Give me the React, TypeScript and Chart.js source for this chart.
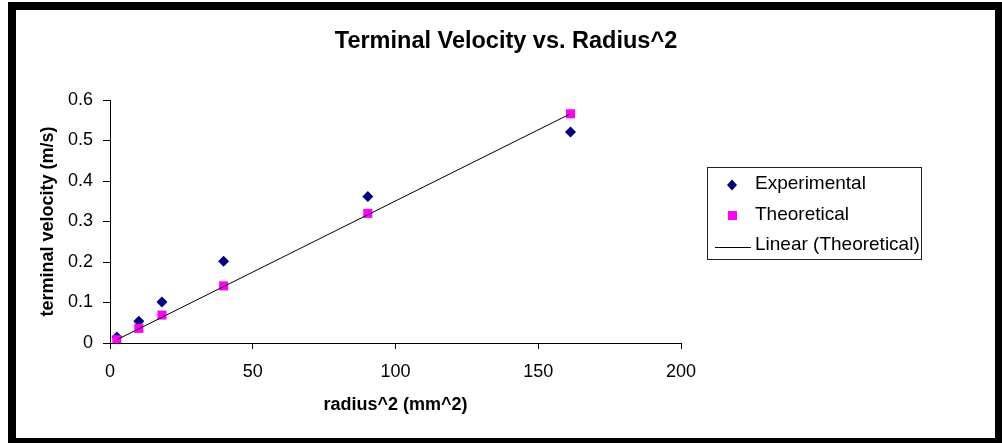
import React, { useEffect, useRef } from "react";
import { Chart, registerables } from "chart.js";

Chart.register(...registerables);

const chartTitle = "Terminal Velocity vs. Radius^2";
const xAxisTitle = "radius^2 (mm^2)";
const yAxisTitle = "terminal velocity (m/s)";
const seriesNames = ["Experimental", "Theoretical", "Linear (Theoretical)"];

const radiusSquared = [2.4, 10.1, 18.2, 39.8, 90.3, 161.3];
const experimentalVelocity = [0.015, 0.054, 0.101, 0.202, 0.362, 0.521];
const theoreticalVelocity = [0.008, 0.036, 0.069, 0.141, 0.32, 0.566];
const trendX = [2.4, 161.3];
const trendY = [0.008, 0.566];

const xTicks = [0, 50, 100, 150, 200];
const yTicks = [0, 0.1, 0.2, 0.3, 0.4, 0.5, 0.6];

const FONT = "'Liberation Sans', Arial, sans-serif";
const NAVY = "#000080";
const MAGENTA = "#FF00FF";

const overlayPlugin = {
  id: "excelOverlay",
  afterDraw(chart: any) {
    const ctx = chart.ctx as CanvasRenderingContext2D;
    ctx.save();
    // Title
    ctx.fillStyle = "#000";
    ctx.font = `bold 23.5px ${FONT}`;
    ctx.textAlign = "center";
    ctx.textBaseline = "middle";
    ctx.fillText(chartTitle, 506, 42);

    // Legend box
    const lx = 707.5;
    const ly = 167.5;
    const lw = 214;
    const lh = 92;
    ctx.fillStyle = "#fff";
    ctx.fillRect(lx, ly, lw, lh);
    ctx.strokeStyle = "#222";
    ctx.lineWidth = 1;
    ctx.strokeRect(lx, ly, lw, lh);

    ctx.font = `19px ${FONT}`;
    ctx.textAlign = "left";
    ctx.textBaseline = "alphabetic";
    const rows = [189, 220, 250];
    const textX = 755;

    // Experimental diamond
    const dy = 185;
    ctx.fillStyle = NAVY;
    ctx.beginPath();
    ctx.moveTo(732 - 5, dy);
    ctx.lineTo(732, dy - 5.5);
    ctx.lineTo(732 + 5, dy);
    ctx.lineTo(732, dy + 5.5);
    ctx.closePath();
    ctx.fill();
    // Theoretical square
    ctx.fillStyle = MAGENTA;
    ctx.fillRect(728, 211, 9, 9);
    // Linear line
    ctx.strokeStyle = "#000";
    ctx.beginPath();
    ctx.moveTo(715, 247.5);
    ctx.lineTo(751, 247.5);
    ctx.stroke();

    ctx.fillStyle = "#000";
    seriesNames.forEach((name, i) => ctx.fillText(name, textX, rows[i]));
    ctx.restore();
  },
};

export default function App() {
  const canvasRef = useRef<HTMLCanvasElement | null>(null);

  useEffect(() => {
    const canvas = canvasRef.current;
    if (!canvas) return;
    const chart = new Chart(canvas, {
      type: "scatter",
      data: {
        datasets: [
          {
            label: seriesNames[0],
            data: radiusSquared.map((x, i) => ({ x, y: experimentalVelocity[i] })),
            pointStyle: "rectRot",
            pointRadius: 5.5,
            borderWidth: 0,
            backgroundColor: NAVY,
            borderColor: NAVY,
            showLine: false,
            order: 2,
          },
          {
            label: seriesNames[1],
            data: radiusSquared.map((x, i) => ({ x, y: theoreticalVelocity[i] })),
            pointStyle: "rect",
            pointRadius: 6.4,
            borderWidth: 0,
            backgroundColor: MAGENTA,
            borderColor: MAGENTA,
            showLine: false,
            order: 1,
          },
          {
            label: seriesNames[2],
            data: trendX.map((x, i) => ({ x, y: trendY[i] })),
            showLine: true,
            pointRadius: 0,
            borderColor: "#000",
            borderWidth: 1,
            fill: false,
            order: 0,
          },
        ],
      },
      options: {
        responsive: false,
        animation: false,
        layout: { padding: { left: 20, right: 321, top: 100, bottom: 0 } },
        plugins: {
          legend: { display: false },
          title: { display: false },
          tooltip: { enabled: false },
        },
        scales: {
          x: {
            type: "linear",
            min: xTicks[0],
            max: xTicks[xTicks.length - 1],
            afterBuildTicks: (s: any) => {
              s.ticks = xTicks.map((v) => ({ value: v }));
            },
            afterFit: (s: any) => {
              s.height = 100;
            },
            grid: { drawOnChartArea: false, drawTicks: true, tickLength: 6, color: "#000" },
            border: { color: "#000", width: 1 },
            ticks: { color: "#000", font: { family: FONT, size: 18 }, padding: 12 },
            title: {
              display: true,
              text: xAxisTitle,
              color: "#000",
              font: { family: FONT, size: 18, weight: "bold" },
              padding: { top: 0, bottom: 27 },
            },
          },
          y: {
            type: "linear",
            min: yTicks[0],
            max: yTicks[yTicks.length - 1],
            afterBuildTicks: (s: any) => {
              s.ticks = yTicks.map((v) => ({ value: v }));
            },
            afterFit: (s: any) => {
              s.width = 90;
            },
            grid: { drawOnChartArea: false, drawTicks: true, tickLength: 7, color: "#000" },
            border: { color: "#000", width: 1 },
            ticks: {
              color: "#000",
              font: { family: FONT, size: 18 },
              padding: 10,
              callback: (v: any) => String(Math.round(Number(v) * 10) / 10),
            },
            title: {
              display: true,
              text: yAxisTitle,
              color: "#000",
              font: { family: FONT, size: 18, weight: "bold" },
              padding: { top: 17, bottom: 0 },
            },
          },
        },
      },
      plugins: [overlayPlugin],
    } as any);
    return () => chart.destroy();
  }, []);

  return (
    <div style={{ position: "fixed", left: 0, top: 0, width: 1002, height: 443, background: "#fff" }}>
      <div style={{ position: "absolute", left: 8, top: 2, width: 994, height: 441, background: "#000" }} />
      <div style={{ position: "absolute", left: 16, top: 10, width: 979, height: 428, background: "#fff" }} />
      <canvas
        ref={canvasRef}
        width={1002}
        height={443}
        style={{ position: "absolute", left: 0, top: 0, width: 1002, height: 443 }}
      />
    </div>
  );
}
